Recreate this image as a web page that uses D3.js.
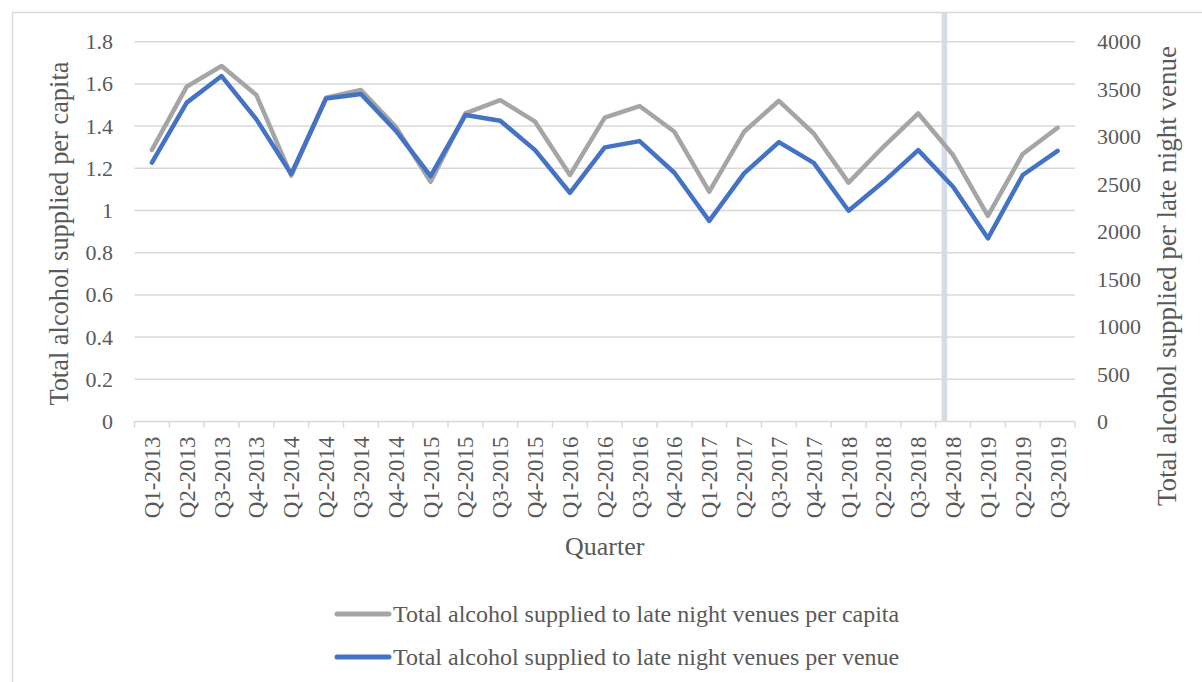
<!DOCTYPE html>
<html>
<head>
<meta charset="utf-8">
<script src="https://cdn.jsdelivr.net/npm/d3@7"></script>
<style>
    body { margin: 0; background: #fff; }
    svg text { font-family: "Liberation Serif", "Times New Roman", serif; fill: #595959; }
</style>
</head>
<body>
<div id="chart"></div>
<script>

var quarters = [ 'Q1-2013', 'Q2-2013', 'Q3-2013', 'Q4-2013',
    'Q1-2014', 'Q2-2014', 'Q3-2014', 'Q4-2014',
    'Q1-2015', 'Q2-2015', 'Q3-2015', 'Q4-2015',
    'Q1-2016', 'Q2-2016', 'Q3-2016', 'Q4-2016',
    'Q1-2017', 'Q2-2017', 'Q3-2017', 'Q4-2017',
    'Q1-2018', 'Q2-2018', 'Q3-2018', 'Q4-2018',
    'Q1-2019', 'Q2-2019', 'Q3-2019' ];

// left axis, per capita
var perCapita = [ 1.287, 1.587, 1.685, 1.547,
    1.165, 1.535, 1.571, 1.397,
    1.136, 1.460, 1.523, 1.421,
    1.168, 1.440, 1.495, 1.373,
    1.089, 1.373, 1.520, 1.365,
    1.132, 1.302, 1.460, 1.263,
    0.975, 1.268, 1.392 ];

// right axis, per venue
var perVenue = [ 2727, 3358, 3638, 3182,
    2607, 3402, 3449, 3063,
    2585, 3227, 3168, 2858,
    2409, 2887, 2953, 2620,
    2113, 2613, 2942, 2724,
    2220, 2524, 2858, 2473,
    1929, 2596, 2851 ];

var leftTicks = [ 0, 0.2, 0.4, 0.6, 0.8, 1, 1.2, 1.4, 1.6, 1.8 ];
var rightTicks = [ 0, 500, 1000, 1500, 2000, 2500, 3000, 3500, 4000 ];

var seriesNames = [ 'Total alcohol supplied to late night venues per capita',
    'Total alcohol supplied to late night venues per venue' ];
var markerQuarter = 'Q4-2018';   // divider drawn a quarter band into this one

var W = 1202, H = 682;
var pLeft = 134.5, pRight = 1075, pTop = 41.7, pBottom = 421.5;

var svg = d3.select( '#chart' ).append( 'svg' ).attr( 'width', W ).attr( 'height', H );

// outer frame (right/bottom edges fall off the picture)
svg.append( 'rect' )
    .attr( 'x', 12.5 ).attr( 'y', 12.5 )
    .attr( 'width', W ).attr( 'height', H )
    .attr( 'fill', 'none' ).attr( 'stroke', '#d9d9d9' ).attr( 'stroke-width', 1.5 );

var x = d3.scaleBand().domain( quarters ).range( [ pLeft, pRight ] );
var yL = d3.scaleLinear().domain( [ 0, 1.8 ] ).range( [ pBottom, pTop ] );
var yR = d3.scaleLinear().domain( [ 0, 4000 ] ).range( [ pBottom, pTop ] );
var cx = function( q ) { return x( q ) + x.bandwidth() / 2; };

// gridlines
svg.append( 'g' ).selectAll( 'line' ).data( leftTicks.slice( 1 ) ).enter().append( 'line' )
    .attr( 'x1', pLeft ).attr( 'x2', pRight )
    .attr( 'y1', function( d ) { return yL( d ); } )
    .attr( 'y2', function( d ) { return yL( d ); } )
    .attr( 'stroke', '#d9d9d9' ).attr( 'stroke-width', 1.5 );

// left tick labels
svg.append( 'g' ).selectAll( 'text' ).data( leftTicks ).enter().append( 'text' )
    .attr( 'x', 113 )
    .attr( 'y', function( d ) { return yL( d ) + 7.5; } )
    .attr( 'text-anchor', 'end' )
    .attr( 'font-size', '22px' )
    .text( function( d ) { return d; } );

// right tick labels
svg.append( 'g' ).selectAll( 'text' ).data( rightTicks ).enter().append( 'text' )
    .attr( 'x', 1097 )
    .attr( 'y', function( d ) { return yR( d ) + 7.5; } )
    .attr( 'font-size', '22px' )
    .text( function( d ) { return d; } );

// category axis, ticks between bands
svg.append( 'line' )
    .attr( 'x1', pLeft ).attr( 'x2', pRight )
    .attr( 'y1', pBottom ).attr( 'y2', pBottom )
    .attr( 'stroke', '#d9d9d9' ).attr( 'stroke-width', 1.5 );

var edges = quarters.map( function( q ) { return x( q ); } ).concat( [ pRight ] );
svg.append( 'g' ).selectAll( 'line' ).data( edges ).enter().append( 'line' )
    .attr( 'x1', function( d ) { return d; } ).attr( 'x2', function( d ) { return d; } )
    .attr( 'y1', pBottom ).attr( 'y2', pBottom + 6 )
    .attr( 'stroke', '#d9d9d9' ).attr( 'stroke-width', 1.5 );

svg.append( 'g' ).selectAll( 'text' ).data( quarters ).enter().append( 'text' )
    .attr( 'transform', function( d ) { return 'translate(' + ( cx( d ) + 8 ) + ',' + ( pBottom + 15 ) + ') rotate(-90)'; } )
    .attr( 'text-anchor', 'end' )
    .attr( 'font-size', '23px' )
    .text( function( d ) { return d; } );

// axis titles
svg.append( 'text' )
    .attr( 'transform', 'translate(68,' + ( ( pTop + pBottom ) / 2 + 2 ) + ') rotate(-90)' )
    .attr( 'text-anchor', 'middle' )
    .attr( 'font-size', '26.4px' )
    .text( 'Total alcohol supplied per capita' );

svg.append( 'text' )
    .attr( 'transform', 'translate(1176,276) rotate(-90)' )
    .attr( 'text-anchor', 'middle' )
    .attr( 'font-size', '27px' )
    .text( 'Total alcohol supplied per late night venue' );

svg.append( 'text' )
    .attr( 'x', ( pLeft + pRight ) / 2 ).attr( 'y', 555 )
    .attr( 'text-anchor', 'middle' )
    .attr( 'font-size', '26px' )
    .text( 'Quarter' );

// divider
var divX = x( markerQuarter ) + x.step() * 0.25;
svg.append( 'line' )
    .attr( 'x1', divX ).attr( 'x2', divX )
    .attr( 'y1', 13 ).attr( 'y2', pBottom )
    .attr( 'stroke', '#d6dce5' ).attr( 'stroke-width', 5.5 );

// the two lines
var lineL = d3.line()
    .x( function( d, i ) { return cx( quarters[ i ] ); } )
    .y( function( d ) { return yL( d ); } );
var lineR = d3.line()
    .x( function( d, i ) { return cx( quarters[ i ] ); } )
    .y( function( d ) { return yR( d ); } );

svg.append( 'path' )
    .attr( 'd', lineL( perCapita ) )
    .style( 'fill', 'none' ).style( 'stroke', '#a5a5a5' )
    .style( 'stroke-width', 4.5 ).style( 'stroke-linejoin', 'round' ).style( 'stroke-linecap', 'round' );

svg.append( 'path' )
    .attr( 'd', lineR( perVenue ) )
    .style( 'fill', 'none' ).style( 'stroke', '#4472c4' )
    .style( 'stroke-width', 4.5 ).style( 'stroke-linejoin', 'round' ).style( 'stroke-linecap', 'round' );

// legend
var legendColors = [ '#a5a5a5', '#4472c4' ];
var lg = svg.append( 'g' ).selectAll( 'g' ).data( seriesNames ).enter().append( 'g' )
    .attr( 'transform', function( d, i ) { return 'translate(337,' + ( 614 + i * 43 ) + ')'; } );
lg.append( 'line' )
    .attr( 'x1', 0 ).attr( 'x2', 52 ).attr( 'y1', 0 ).attr( 'y2', 0 )
    .attr( 'stroke', function( d, i ) { return legendColors[ i ]; } )
    .attr( 'stroke-width', 5 ).attr( 'stroke-linecap', 'round' );
lg.append( 'text' )
    .attr( 'x', 56 ).attr( 'y', 8 )
    .attr( 'font-size', '24px' )
    .text( function( d ) { return d; } );

</script>
</body>
</html>
